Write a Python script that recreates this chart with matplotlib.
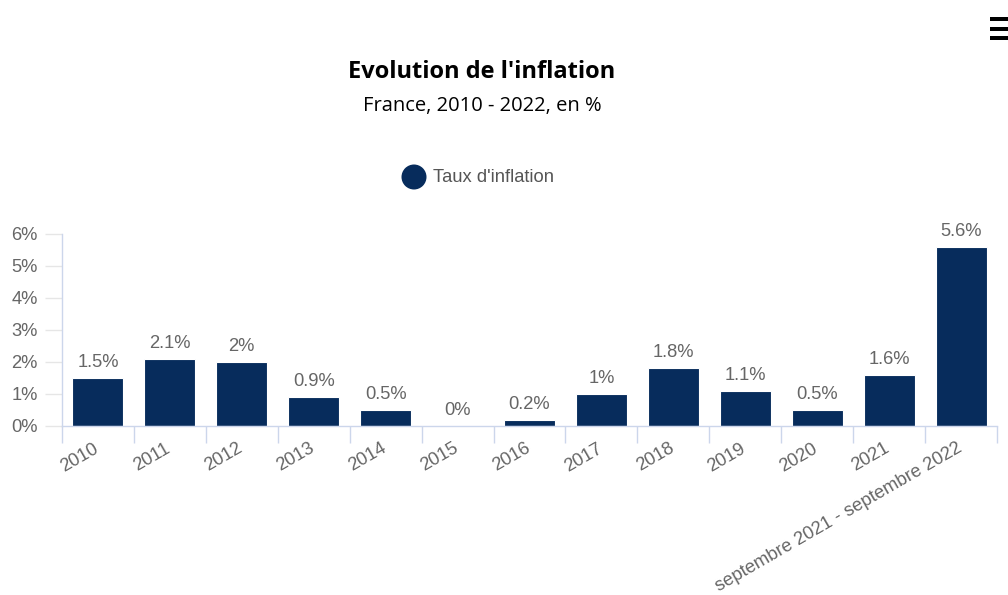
import matplotlib
matplotlib.use("Agg")
import matplotlib.pyplot as plt
from matplotlib.patches import Rectangle, Ellipse
from matplotlib.transforms import ScaledTranslation
import numpy as np

categories = ["2010", "2011", "2012", "2013", "2014", "2015", "2016", "2017",
              "2018", "2019", "2020", "2021", "septembre 2021 - septembre 2022"]
values = [1.5, 2.1, 2.0, 0.9, 0.5, 0.0, 0.2, 1.0, 1.8, 1.1, 0.5, 1.6, 5.6]
labels = ["1.5%", "2.1%", "2%", "0.9%", "0.5%", "0%", "0.2%", "1%", "1.8%",
          "1.1%", "0.5%", "1.6%", "5.6%"]
yticks = [0, 1, 2, 3, 4, 5, 6]
ytick_labels = ["0%", "1%", "2%", "3%", "4%", "5%", "6%"]

title = "Evolution de l'inflation"
subtitle = "France, 2010 - 2022, en %"
legend_label = "Taux d'inflation"

bar_color = "#072c5c"
text_gray = "#666666"
axis_gray = "#ccd6eb"
FS = 13.2

W, H = 1008, 595
fig = plt.figure(figsize=(W / 100, H / 100), dpi=100)
plt.rcParams["font.family"] = ["Liberation Sans", "DejaVu Sans"]

ax = fig.add_axes([62 / W, 1 - 426 / H, (997 - 62) / W, (426 - 234) / H])
x = np.arange(len(categories))
ax.bar(x, values, width=0.71, color=bar_color, edgecolor="white", linewidth=0.8)
ax.set_xlim(-0.5, len(categories) - 0.5)
ax.set_ylim(0, 6)

for xi, v, lab in zip(x, values, labels):
    ax.annotate(lab, (xi, v), xytext=(0, 5), textcoords="offset points",
                ha="center", va="bottom", fontsize=FS, color=text_gray)

for s in ["top", "right"]:
    ax.spines[s].set_visible(False)
ax.spines["left"].set_color(axis_gray)
ax.spines["bottom"].set_color(axis_gray)
ax.spines["left"].set_linewidth(1)
ax.spines["bottom"].set_linewidth(1)

ax.set_yticks(yticks)
ax.set_yticklabels(ytick_labels)
ax.tick_params(axis="y", length=12, width=1, color="#e6e6e6", labelsize=FS,
               labelcolor=text_gray, pad=5.5)

# category boundaries ticks
ax.set_xticks(np.arange(-0.5, len(categories), 1.0), minor=False)
ax.set_xticklabels([])
ax.tick_params(axis="x", which="major", length=12, width=1, color=axis_gray)
ax.set_xticks(x, minor=True)
ax.set_xticklabels(categories, minor=True, rotation=30, ha="right", va="top",
                   rotation_mode="anchor", fontsize=FS, color=text_gray)
ax.tick_params(axis="x", which="minor", length=0, pad=10)
shift = ScaledTranslation(-5 / 100, 0, fig.dpi_scale_trans)
for lab in ax.get_xticklabels(minor=True):
    lab.set_transform(lab.get_transform() + shift)

# title, subtitle
fig.text(482 / W, 1 - 72 / H, title, ha="center", va="center", fontsize=17,
         fontweight="bold", family=["Open Sans", "DejaVu Sans"], color="#000000")
fig.text(482 / W, 1 - 106 / H, subtitle, ha="center", va="center", fontsize=14.5,
         family=["Open Sans", "DejaVu Sans"], color="#000000")

# legend
fig.patches.append(Ellipse((414 / W, 1 - 177 / H), 25 / W, 25 / H,
                           transform=fig.transFigure, facecolor=bar_color,
                           edgecolor="none"))
fig.text(433 / W, 1 - 177 / H, legend_label, ha="left", va="center", fontsize=FS,
         color="#555555")

# menu icon
for yy in (17, 27, 36):
    fig.patches.append(Rectangle((990 / W, 1 - (yy + 4) / H), 20 / W, 4 / H,
                                 transform=fig.transFigure, facecolor="black",
                                 edgecolor="none"))

fig.savefig("out.png", dpi=100)
